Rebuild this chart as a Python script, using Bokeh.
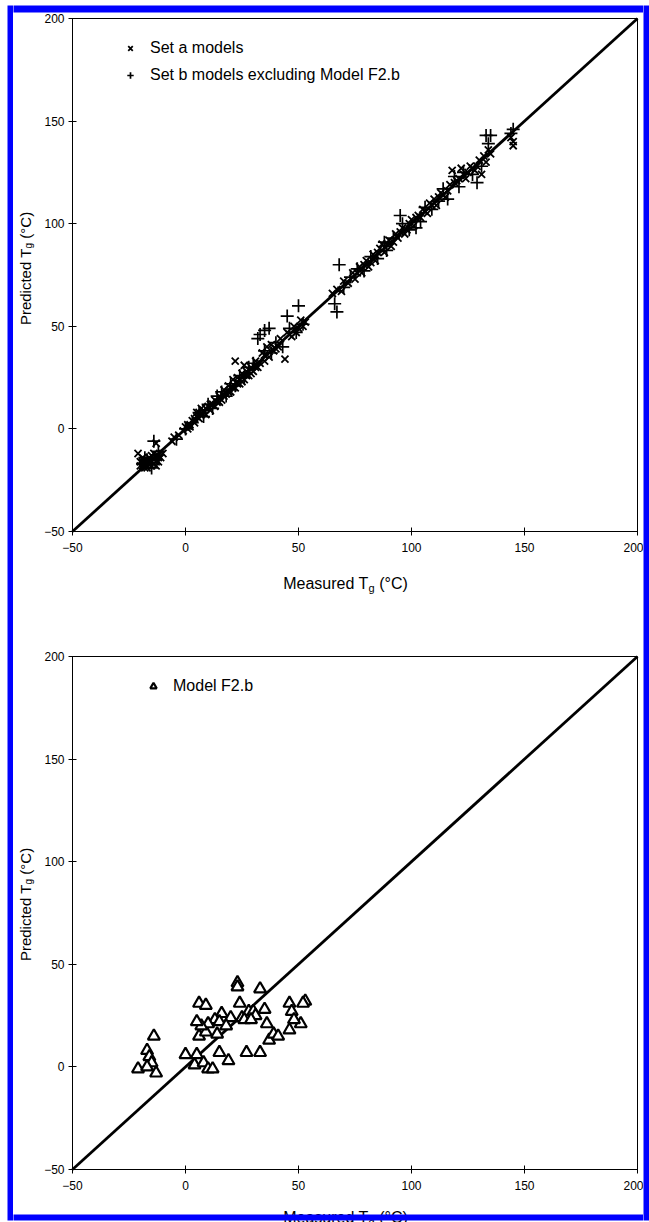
import math
from bokeh.plotting import figure
from bokeh.layouts import column, row
from bokeh.models import Label, Legend, LegendItem, FixedTicker, Range1d, BoxAnnotation
from bokeh.embed import file_html
from bokeh.resources import INLINE

# ---------------- data ----------------
ticks = [-50, 0, 50, 100, 150, 200]
diag = [-50, 200]

set_a_x = [-21, -20, -19, -18, -18, -17, -17, -16, -16, -15, -15, -14, -14, -13, -13, -12, -12, -11, -10, -13,
           -19, -18, -17, -16, -15, -14, -13, -12, -20, -19,
           -6, -5, -3, -1, 0, 1, 2, 3, 4, 5, 5, 6, 7, 7, 8, 9, 10, 11, 12, 13, 14, 15, 16, 17, 18, 19, 20,
           21, 22, 22, 23, 24, 25, 26, 26, 27, 28, 29, 30, 31, 32, 34, 35, 36, 37, 38, 40, 42, 44, 45, 47,
           48, 50, 51, 52,
           1, 2, 4, 6, 8, 9, 11, 13, 15, 17, 19, 21, 23, 25, 27, 29, 31, 33, 35, 39, 41, 46, 49, 53,
           65, 67, 69, 70, 72, 74, 75, 77, 78, 80, 81, 83, 84, 86, 87, 88, 90, 91, 93, 94, 96, 98, 100,
           101, 103, 105, 107, 108, 110, 111, 113, 115, 117, 118, 120, 122, 124, 126, 128, 130, 131, 133,
           134, 144, 145, 145,
           76, 79, 82, 85, 89, 92, 95, 97, 99, 102, 104, 106, 109, 112, 114, 116, 119, 121, 123, 125,
           127, 129, 132, 135]
set_a_y = [-12, -18, -16, -19, -17, -15, -18, -17, -14, -16, -13, -15, -12, -7, -14, -13, -16, -14, -12, -18,
           -18, -15, -19, -16, -18, -17, -16, -14, -16, -14,
           -6, -4, -3, -1, 1, 0, 2, 4, 3, 6, 8, 5, 10, 7, 9, 7, 11, 9, 12, 14, 13, 16, 14, 19, 17, 21, 18,
           24, 33, 20, 25, 22, 27, 31, 24, 28, 26, 30, 28, 33, 30, 37, 33, 40, 35, 41, 39, 44, 34, 47, 45,
           50, 49, 53, 50,
           2, 1, 5, 8, 8, 10, 12, 11, 13, 16, 18, 20, 22, 23, 26, 27, 30, 32, 36, 38, 40, 46, 47, 52,
           66, 68, 67, 72, 71, 76, 73, 79, 76, 82, 79, 85, 82, 88, 90, 86, 92, 89, 95, 93, 98, 97, 102,
           99, 104, 107, 105, 110, 112, 109, 115, 113, 119, 126, 121, 127, 122, 128, 126, 131, 124, 130,
           136, 142, 138, 140,
           76, 80, 81, 86, 90, 91, 96, 95, 100, 103, 103, 106, 109, 113, 114, 116, 120, 122, 124, 125,
           127, 128, 133, 134]

set_b_x = [-19, -17, -15, -14, -12, -18,
           -4, 0, 3, 6, 8, 10, 12, 14, 16, 18, 20, 22, 24, 26, 28, 30, 32, 33, 35, 37, 35, 38, 40, 43,
           45, 46, 49, 50, 52,
           66, 67, 68, 70, 73, 76, 79, 82, 85, 88, 89, 92, 95, 96, 99, 102, 104, 106, 109, 112, 114,
           116, 119, 121, 123, 127, 129, 131, 133, 135, 134, 145, 144]
set_b_y = [-17, -15, -19, -6, -11, -14,
           -5, 0, 3, 8, 6, 12, 10, 16, 18, 16, 22, 21, 26, 25, 30, 32, 44, 46, 48, 49, 38, 37, 42, 40,
           55, 49, 47, 60, 51,
           61, 57, 80, 69, 74, 78, 77, 84, 83, 91, 87, 93, 104, 100, 97, 98, 101, 108, 107, 111, 117,
           112, 123, 118, 125, 124, 120, 128, 143, 143, 139, 146, 144]

f2b_x = [-21, -17, -16, -15, -14, -13, -17,
         0, 5, 4, 8, 10, 12, 15, 19, 27, 33, 37, 39, 41, 46, 51, 36, 6, 9, 14,
         23, 23, 24, 6, 9, 33, 46, 53, 52, 47, 48, 16, 20, 25, 28, 30, 31, 13, 10, 7, 5, 15, 18, 26, 29, 35]
f2b_y = [-1, 8, 5, 2, 15, -3, 0,
         6, 6, 1, 2, -1, -1, 7, 3, 7, 7, 13, 16, 15, 18, 21, 21, 15, 17, 16,
         41, 39, 31, 31, 30, 38, 31, 32, 31, 27, 23, 26, 24, 24, 27, 27, 25, 23, 21, 20, 22, 22, 20, 23, 23, 28]

# ---------------- layout constants (pixels) ----------------
FONT = "Liberation Sans"
BLUE = "#0000ff"
LEFT_W, RIGHT_W = 13, 6      # left strip: 7px white + 6px blue; right strip: 6px blue
W = 649 - LEFT_W - RIGHT_W   # panel width
OX = LEFT_W                  # page x of panel canvas left edge
LO, HI = ticks[0], ticks[-1]
X_LEFT_PX, X_RIGHT_PX = 72 - OX, 637 - OX   # canvas px where -50 and 200 fall
SX = (X_RIGHT_PX - X_LEFT_PX) / (HI - LO)
SY = 513 / (HI - LO)
H1, H2 = 640, 582
HT = H1 + H2


def side_strip(width, left_white):
    s = figure(width=width, height=HT, output_backend="svg", toolbar_location=None, title=None,
               x_range=Range1d(0, 1), y_range=Range1d(0, 1),
               min_border_left=left_white, min_border_right=0, min_border_top=5, min_border_bottom=2)
    s.axis.visible = False
    s.grid.visible = False
    s.outline_line_color = None
    s.background_fill_color = BLUE
    s.border_fill_color = "white"
    return s


def make_panel(height, top_px, bottom_px):
    """top_px / bottom_px: canvas pixel rows where 200 and -50 fall."""
    xr = Range1d(LO - X_LEFT_PX / SX, HI + (W - X_RIGHT_PX) / SX)
    yr = Range1d(LO - (height - bottom_px) / SY, HI + top_px / SY)
    p = figure(width=W, height=height, output_backend="svg", toolbar_location=None, title=None,
               x_range=xr, y_range=yr, min_border=0)
    p.xgrid.visible = False
    p.ygrid.visible = False
    p.outline_line_color = None
    p.background_fill_color = "white"
    p.border_fill_color = "white"
    for ax in (p.xaxis[0], p.yaxis[0]):
        ax.fixed_location = LO
        ax.ticker = FixedTicker(ticks=ticks)
        ax.minor_tick_line_color = None
        ax.major_tick_in = 4
        ax.major_tick_out = 4
        ax.axis_line_color = None
        ax.major_tick_line_color = "black"
        ax.major_label_text_font = FONT
        ax.major_label_text_font_size = "12px"
        ax.major_label_text_color = "black"
    p.xaxis[0].major_label_standoff = 7
    p.yaxis[0].major_label_standoff = 4
    # plot box
    p.segment(x0=[LO, LO, LO, HI], y0=[LO, HI, LO, LO], x1=[HI, HI, LO, HI], y1=[LO, HI, HI, HI],
              line_color="black", line_width=1)
    p.line(diag, diag, line_color="black", line_width=2.8)
    return p


def add_titles(p, xbase, ycenter):
    # screen px from the canvas bottom-left
    fs, fss = 16, 11
    w1 = 5.335 * fs
    w2 = 0.556 * fss
    sp = 0.278 * fs
    total = w1 + w2 + sp + 1.788 * fs
    x0 = 345 - OX - total / 2
    for txt, x, dy, s in [("Measured T", x0, 0, fs), ("g", x0 + w1, -4, fss), ("(\u00b0C)", x0 + w1 + w2 + sp, 0, fs)]:
        p.add_layout(Label(x=x, y=xbase + dy, x_units="screen", y_units="screen", text=txt,
                           text_font=FONT, text_font_size=f"{s}px", text_color="black",
                           text_align="left", text_baseline="alphabetic"))
    fs, fss = 15, 10
    w1 = 5.113 * fs
    w2 = 0.556 * fss
    sp = 0.278 * fs
    total = w1 + w2 + sp + 1.788 * fs
    y0 = ycenter - total / 2
    for txt, y, dx, s in [("Predicted T", y0, 0, fs), ("g", y0 + w1, 3, fss), ("(\u00b0C)", y0 + w1 + w2 + sp, 0, fs)]:
        p.add_layout(Label(x=25 - OX + dx, y=y, x_units="screen", y_units="screen", text=txt, angle=math.pi / 2,
                           text_font=FONT, text_font_size=f"{s}px", text_color="black",
                           text_align="left", text_baseline="alphabetic"))


def style_legend(lg):
    lg.border_line_color = None
    lg.background_fill_alpha = 0
    lg.padding = 0
    lg.margin = 0
    lg.spacing = 7
    lg.label_height = 20
    lg.glyph_height = 20
    lg.glyph_width = 16
    lg.label_standoff = 12
    lg.label_text_font = FONT
    lg.label_text_font_size = "16px"
    lg.label_text_color = "black"


def blue_box(p, l, r, b, t):
    p.add_layout(BoxAnnotation(left=l, right=r, bottom=b, top=t,
                               left_units="screen", right_units="screen",
                               bottom_units="screen", top_units="screen",
                               fill_color=BLUE, fill_alpha=1, line_color=None))


# ---------------- panel 1 (page rows 0..640) ----------------
p1 = make_panel(H1, 18, 531)
ra = p1.scatter(set_a_x, set_a_y, marker="x", size=10, line_color="black", line_width=1.8)
rb = p1.scatter(set_b_x, set_b_y, marker="cross", size=13, line_color="black", line_width=1.7)
lg1 = Legend(items=[LegendItem(label="Set a models", renderers=[ra]),
                    LegendItem(label="Set b models excluding Model F2.b", renderers=[rb])],
             location=(122 - OX, H1 - 85))
style_legend(lg1)
p1.add_layout(lg1, "center")
add_titles(p1, H1 - 583, H1 - 268)
blue_box(p1, -5, W + 5, H1 - 12, H1 - 5)

# ---------------- panel 2 (page rows 640..1222) ----------------
p2 = make_panel(H2, 656 - H1, 1169 - H1)
rt = p2.scatter(f2b_x, f2b_y, marker="triangle", size=12, line_color="black", fill_color="white", line_width=2.2)
lg2 = Legend(items=[LegendItem(label="Model F2.b", renderers=[rt])], location=(145 - OX, H2 - 56))
style_legend(lg2)
p2.add_layout(lg2, "center")
add_titles(p2, H2 - (1217 - H1), H2 - (904 - H1))
blue_box(p2, -5, W + 5, 2, 8)

layout = row(side_strip(LEFT_W, 7), column(p1, p2, spacing=0), side_strip(RIGHT_W, 0), spacing=0)

open("out.html", "w").write(file_html(layout, INLINE))
